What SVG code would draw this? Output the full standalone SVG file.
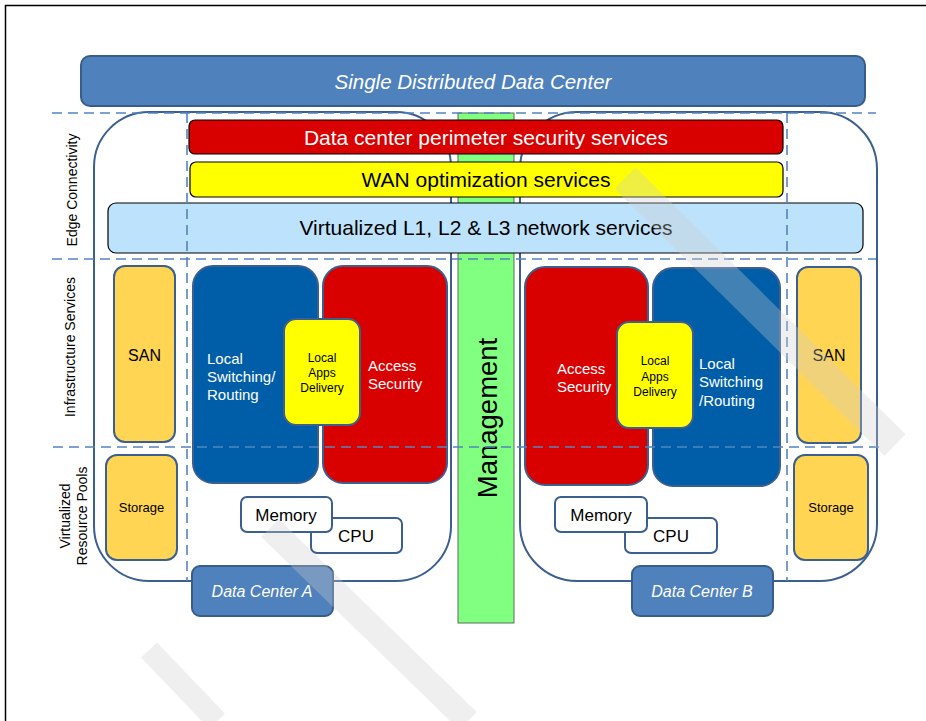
<svg xmlns="http://www.w3.org/2000/svg" width="926" height="721" viewBox="0 0 926 721">
<style>
text{font-family:"Liberation Sans",Arial,sans-serif}
.outer{fill:#fff;stroke:#3b5f8f;stroke-width:2}
.dash{stroke:#5484c0;stroke-width:1.6;stroke-dasharray:10 6;fill:none}
.bar{stroke:#000;stroke-width:1.2}
.blue{fill:#005ea8;stroke:#3b5f8f;stroke-width:2}
.red{fill:#d90000;stroke:#3b5f8f;stroke-width:2}
.yel{fill:#ffff00;stroke:#3b5f8f;stroke-width:2}
.san{fill:#ffd553;stroke:#3b5f8f;stroke-width:2}
.wbox{fill:#fff;stroke:#3b5f8f;stroke-width:2}
.dc{fill:#4f81bd;stroke:#385d8a;stroke-width:2}
.wt{fill:#fff;font-size:15px}
.bt{fill:#000;font-size:17px}
.lab{fill:#000;font-size:14px}
.big{font-size:21px}
</style>
<rect x="0" y="0" width="926" height="721" fill="#fff"/>
<path d="M5.5 721 V5.5 H926" fill="none" stroke="#000" stroke-width="1.5"/>

<g id="title">
<rect x="81" y="56" width="784" height="50" rx="9" fill="#4f81bd" stroke="#385d8a" stroke-width="2"/>
<text x="473" y="89" text-anchor="middle" font-size="20.5" font-style="italic" fill="#fff">Single Distributed Data Center</text>
</g>

<g id="dcA-outline"><rect class="outer" x="94" y="112" width="357" height="469" rx="55"/></g>
<g id="dcB-outline"><rect class="outer" x="520" y="112" width="357" height="469" rx="57"/></g>

<g id="management">
<rect x="458" y="113" width="56" height="510" fill="#80ff80" stroke="#5a6e5a" stroke-width="1"/>
<text transform="translate(487,418) rotate(-90)" text-anchor="middle" dominant-baseline="central" font-size="27.5" fill="#000">Management</text>
</g>

<g id="perimeter">
<rect class="bar" x="189" y="120" width="594" height="34" rx="6" fill="#d90000"/>
<text class="big" x="486" y="145" text-anchor="middle" fill="#fff">Data center perimeter security services</text>
</g>
<g id="wan">
<rect class="bar" x="190" y="162" width="593" height="35" rx="6" fill="#ffff00"/>
<text class="big" x="486" y="187" text-anchor="middle" fill="#000">WAN optimization services</text>
</g>
<g id="virt">
<rect class="bar" x="108" y="203" width="755" height="50" rx="8" fill="#bde2fb"/>
<text class="big" x="486" y="235" text-anchor="middle" fill="#000">Virtualized L1, L2 &amp; L3 network services</text>
</g>

<g id="sanA"><rect class="san" x="114" y="266" width="61" height="176" rx="11"/>
<text x="144.5" y="361" text-anchor="middle" font-size="16">SAN</text></g>
<g id="storageA"><rect class="san" x="106" y="455" width="71" height="105" rx="11"/>
<text x="141.5" y="512" text-anchor="middle" font-size="13">Storage</text></g>

<g id="switchA"><rect class="blue" x="193" y="266" width="125" height="217" rx="20"/>
<text class="wt" x="207" y="364">Local</text>
<text class="wt" x="207" y="382">Switching/</text>
<text class="wt" x="207" y="400">Routing</text></g>
<g id="accessA"><rect class="red" x="323" y="266" width="124" height="217" rx="20"/>
<text class="wt" x="368" y="371">Access</text>
<text class="wt" x="368" y="389">Security</text></g>
<g id="appsA"><rect class="yel" x="284" y="319" width="76" height="106" rx="12"/>
<text x="322" y="362" text-anchor="middle" font-size="12">Local</text>
<text x="322" y="377" text-anchor="middle" font-size="12">Apps</text>
<text x="322" y="392" text-anchor="middle" font-size="12">Delivery</text></g>

<g id="cpuA"><rect class="wbox" x="311" y="518" width="91" height="35" rx="6"/>
<text class="bt" x="356" y="542" text-anchor="middle">CPU</text></g>
<g id="memA"><rect class="wbox" x="241" y="497" width="91" height="35" rx="6"/>
<text class="bt" x="286" y="521" text-anchor="middle">Memory</text></g>

<g id="dcA"><rect class="dc" x="192" y="566" width="141" height="50" rx="8"/>
<text x="262" y="597" text-anchor="middle" font-size="16" font-style="italic" fill="#fff">Data Center A</text></g>

<g id="accessB"><rect class="red" x="525" y="267" width="123" height="218" rx="20"/>
<text class="wt" x="557" y="374">Access</text>
<text class="wt" x="557" y="392">Security</text></g>
<g id="switchB"><rect class="blue" x="653" y="268" width="127" height="218" rx="20"/>
<text class="wt" x="699" y="369">Local</text>
<text class="wt" x="699" y="387">Switching</text>
<text class="wt" x="699" y="406">/Routing</text></g>
<g id="appsB"><rect class="yel" x="617" y="322" width="76" height="106" rx="12"/>
<text x="655" y="365" text-anchor="middle" font-size="12">Local</text>
<text x="655" y="381" text-anchor="middle" font-size="12">Apps</text>
<text x="655" y="396" text-anchor="middle" font-size="12">Delivery</text></g>
<g id="sanB"><rect class="san" x="797" y="267" width="64" height="176" rx="11"/>
<text x="829" y="361" text-anchor="middle" font-size="16">SAN</text></g>
<g id="storageB"><rect class="san" x="794" y="455" width="74" height="105" rx="11"/>
<text x="831" y="512" text-anchor="middle" font-size="13">Storage</text></g>

<g id="cpuB"><rect class="wbox" x="625" y="518" width="92" height="35" rx="6"/>
<text class="bt" x="671" y="542" text-anchor="middle">CPU</text></g>
<g id="memB"><rect class="wbox" x="555" y="497" width="92" height="35" rx="6"/>
<text class="bt" x="601" y="521" text-anchor="middle">Memory</text></g>

<g id="dcB"><rect class="dc" x="632" y="566" width="141" height="50" rx="8"/>
<text x="702" y="597" text-anchor="middle" font-size="16" font-style="italic" fill="#fff">Data Center B</text></g>

<g id="connectors">
<path class="dash" d="M52 113 H876 M52 259 H876 M53 447 H880 M187 113 V581 M787 113 V581"/>
</g>

<g id="layer-labels">
<text class="lab" transform="translate(72,190) rotate(-90)" text-anchor="middle" dominant-baseline="central">Edge Connectivity</text>
<text class="lab" transform="translate(70,347) rotate(-90)" text-anchor="middle" dominant-baseline="central">Infrastructure Services</text>
<text class="lab" transform="translate(74,516) rotate(-90)" text-anchor="middle"><tspan x="0" y="-4">Virtualized</tspan><tspan x="0" y="13">Resource Pools</tspan></text>
</g>

<g id="watermark" opacity="0.32" fill="none" stroke="#cecece" stroke-width="30">
<path d="M625 178 L895 445"/>
<path d="M270 528 L468 721" stroke-width="25"/>
<path d="M149 650 L217 721" stroke-width="22"/>
</g>
</svg>
